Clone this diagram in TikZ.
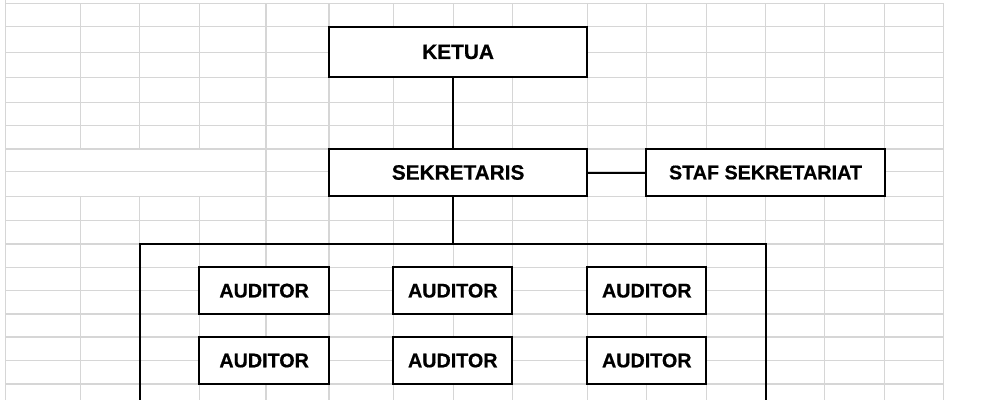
\documentclass[tikz,border=0pt]{standalone}
\usepackage{fontspec}
\setmainfont{Liberation Sans}[BoldFeatures={FakeBold=0.6}]
\definecolor{gridgray}{RGB}{214,214,214}
\tikzset{
  gridline/.style={draw=gridgray, line width=0.8pt},
  box/.style={draw=black, fill=white, line width=1.5pt, rectangle, inner sep=0pt, align=center},
  bigtxt/.style={font=\fontsize{15.6}{18}\selectfont\bfseries},
  smalltxt/.style={font=\fontsize{14.8}{17}\selectfont\bfseries},
  link/.style={draw=black, line width=1.5pt}
}
\begin{document}
\begin{tikzpicture}[x=0.75pt, y=-0.75pt]
\useasboundingbox (0,0) rectangle (990,400);
\begin{scope}
\clip (0,0) rectangle (990,400);
% grid: horizontal lines
\foreach \yy in {3.3,26.7,52.3,77.3,102.3,125.3,149,171.7,196.3,220.7,244,267.3,290.7,314,337,360.3,384}
  \draw[gridline] (5.7,\yy) -- (943.5,\yy);
% grid: vertical lines
\draw[gridline] (5.7,0) -- (5.7,400);
\foreach \xx in {80.3,139.7,199.3}{
  \draw[gridline] (\xx,3.3) -- (\xx,149);
  \draw[gridline] (\xx,196.3) -- (\xx,400);
}
\foreach \xx in {266,329,393.3,453.3,512.3,587.3,646.3,706.3,765.7,824.7,884.7,943.5}
  \draw[gridline] (\xx,3.3) -- (\xx,400);

\coordinate (mid) at (453.3,0);

% boxes
\node[box, bigtxt, minimum width=193.7pt, minimum height=38pt] (ketua) at (458.15,51.9) {KETUA};
\node[box, bigtxt, minimum width=193.7pt, minimum height=35.25pt] (sek) at (458.15,172.5) {SEKRETARIS};
\node[box, smalltxt, minimum width=178.8pt, minimum height=35.25pt] (staf) at (765.5,172.5) {STAF SEKRETARIAT};

% group frame (open below the picture edge)
\node[draw=black, line width=1.5pt, rectangle, inner sep=0pt, minimum width=469.5pt, minimum height=150pt] (group) at (452.7,344) {};

% auditors
\node[box, smalltxt, minimum width=97.3pt, minimum height=35pt] (a11) at (264.15,290.65) {AUDITOR};
\node[box, smalltxt, minimum width=89.25pt, minimum height=35pt] (a12) at (452.8,290.65) {AUDITOR};
\node[box, smalltxt, minimum width=89.25pt, minimum height=35pt] (a13) at (646.8,290.65) {AUDITOR};
\node[box, smalltxt, minimum width=97.3pt, minimum height=35pt] (a21) at (264.15,360.5) {AUDITOR};
\node[box, smalltxt, minimum width=89.25pt, minimum height=35pt] (a22) at (452.8,360.5) {AUDITOR};
\node[box, smalltxt, minimum width=89.25pt, minimum height=35pt] (a23) at (646.8,360.5) {AUDITOR};

% connectors
\draw[link] (ketua.south -| mid) -- (sek.north -| mid);
\draw[link] (sek.south -| mid) -- (group.north -| mid);
\draw[link] (sek.east) -- (staf.west);
\end{scope}
\end{tikzpicture}
\end{document}
